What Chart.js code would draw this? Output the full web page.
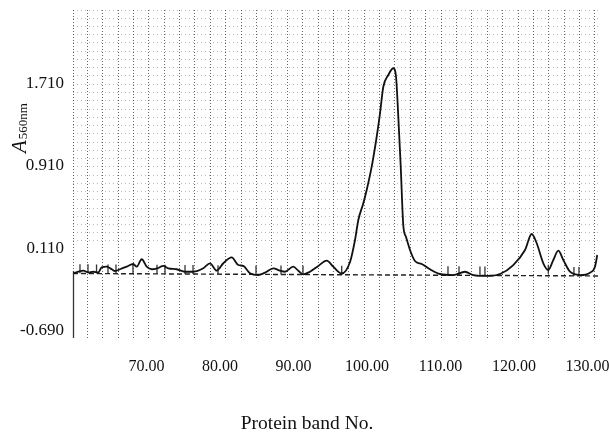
<!DOCTYPE html>
<html>
<head>
<meta charset="utf-8">
<script src="https://cdn.jsdelivr.net/npm/chart.js@4"></script>
<style>
html,body{margin:0;padding:0;background:#fff;}
#wrap{width:609px;height:433px;}
</style>
</head>
<body>
<div id="wrap"><canvas id="c" width="609" height="433"></canvas></div>
<script>
// ---- data ----
const bandNo = [60.04,60.72,61.40,62.08,62.76,63.44,63.90,64.59,65.27,65.71,66.39,67.31,68.20,68.67,69.35,70.03,70.71,71.47,72.29,72.97,74.11,75.24,76.37,77.73,78.64,79.55,80.45,81.59,82.49,83.17,84.08,85.21,86.12,87.25,88.16,88.84,89.97,90.65,91.33,92.24,93.37,94.52,95.41,96.56,97.69,98.37,98.82,99.50,99.96,100.64,101.32,101.77,102.22,102.90,103.58,103.95,104.26,104.59,104.94,105.31,105.85,106.53,107.44,108.57,109.93,111.74,113.33,114.46,116.29,118.10,119.90,121.50,122.41,123.09,123.99,124.67,125.35,126.03,126.71,127.62,128.98,130.34,131.02,131.33];
const absorbance = [-0.133,-0.118,-0.108,-0.124,-0.118,-0.124,-0.075,-0.069,-0.094,-0.111,-0.094,-0.069,-0.043,-0.069,0.003,-0.069,-0.094,-0.085,-0.062,-0.085,-0.094,-0.118,-0.118,-0.085,-0.036,-0.108,-0.036,0.022,-0.053,-0.062,-0.133,-0.150,-0.127,-0.085,-0.108,-0.118,-0.069,-0.108,-0.143,-0.118,-0.062,-0.011,-0.069,-0.135,-0.024,0.190,0.384,0.546,0.675,0.901,1.191,1.418,1.676,1.790,1.855,1.773,1.385,0.901,0.330,0.219,0.093,-0.014,-0.043,-0.094,-0.140,-0.150,-0.118,-0.150,-0.159,-0.140,-0.053,0.093,0.248,0.158,-0.036,-0.101,-0.004,0.086,-0.004,-0.118,-0.150,-0.127,-0.069,0.044];
const baselineX = [60.0, 131.43];
const baselineY = [-0.135, -0.159];
const markerX = [60.95,62.04,63.20,64.76,65.85,68.16,71.43,72.52,75.24,76.33,79.73,84.90,88.30,91.29,96.56,111.02,112.52,115.37,116.05,124.67,128.16,128.84];
const markerY = [-0.090,-0.090,-0.091,-0.092,-0.092,-0.093,-0.094,-0.095,-0.096,-0.097,-0.098,-0.100,-0.101,-0.102,-0.104,-0.108,-0.109,-0.110,-0.110,-0.095,-0.115,-0.115];
const xTickValues = [70, 80, 90, 100, 110, 120, 130];
const yTickValues = [-0.690, 0.110, 0.910, 1.710];
const xTitle = 'Protein band No.';
const yTitleMain = 'A';
const yTitleSub = '560nm';

const SERIF = '"Liberation Serif", "DejaVu Serif", serif';

function noPad(s) { s.paddingTop = 0; s.paddingBottom = 0; s.paddingLeft = 0; s.paddingRight = 0; }

const decor = {
  id: 'decor',
  beforeDatasetsDraw(chart) {
    const ctx = chart.ctx, a = chart.chartArea, ys = chart.scales.y;
    ctx.save();
    ctx.strokeStyle = 'rgba(0,0,0,0.6)';
    ctx.lineWidth = 1;
    ctx.setLineDash([1, 2]);
    ctx.beginPath();
    ctx.moveTo(a.left + 0.5, a.top);
    ctx.lineTo(a.left + 0.5, a.bottom);
    ctx.stroke();
    ctx.setLineDash([]);
    ctx.strokeStyle = '#333';
    ctx.lineWidth = 1.3;
    ctx.beginPath();
    ctx.moveTo(a.left + 0.5, ys.getPixelForValue(-0.11));
    ctx.lineTo(a.left + 0.5, a.bottom - 2);
    ctx.stroke();
    ctx.restore();
  },
  afterDraw(chart) {
    const ctx = chart.ctx;
    ctx.save();
    ctx.fillStyle = '#111';
    ctx.font = '19.5px ' + SERIF;
    ctx.textAlign = 'center';
    ctx.textBaseline = 'alphabetic';
    ctx.fillText(xTitle, 307, 429);
    ctx.translate(26, 153);
    ctx.rotate(-Math.PI / 2);
    ctx.textAlign = 'left';
    ctx.font = 'italic 21px ' + SERIF;
    ctx.fillText(yTitleMain, 0, 0);
    const wA = ctx.measureText(yTitleMain).width;
    ctx.font = '13px ' + SERIF;
    ctx.fillText(yTitleSub, wA + 1, 1);
    ctx.restore();
  }
};

new Chart(document.getElementById('c'), {
  type: 'line',
  data: {
    datasets: [
      {
        label: 'A560',
        data: bandNo.map((x, i) => ({x: x, y: absorbance[i]})),
        borderColor: '#111',
        borderWidth: 1.8,
        pointRadius: 0,
        cubicInterpolationMode: 'monotone',
        fill: false
      },
      {
        label: 'baseline',
        data: baselineX.map((x, i) => ({x: x, y: baselineY[i]})),
        borderColor: '#222',
        borderWidth: 1.4,
        borderDash: [5, 3],
        pointRadius: 0,
        fill: false
      },
      {
        label: 'markers',
        type: 'scatter',
        data: markerX.map((x, i) => ({x: x, y: markerY[i]})),
        showLine: false,
        pointStyle: 'line',
        rotation: 90,
        radius: 4.5,
        pointRadius: 4.5,
        borderWidth: 1.3,
        borderColor: '#333',
        backgroundColor: '#333'
      }
    ]
  },
  options: {
    responsive: false,
    devicePixelRatio: 1,
    animation: false,
    events: [],
    layout: {autoPadding: false, padding: {left: 0, right: 11, top: 10, bottom: 0}},
    plugins: {legend: {display: false}, tooltip: {enabled: false}, title: {display: false}},
    scales: {
      x: {
        type: 'linear',
        position: 'bottom',
        min: 60,
        max: 131.43,
        afterBuildTicks: s => { s.ticks = xTickValues.map(v => ({value: v})); },
        afterFit: s => { s.height = 93; noPad(s); },
        ticks: {
          callback: v => Number(v).toFixed(2),
          font: {family: SERIF, size: 16},
          color: '#111',
          padding: 17,
          maxRotation: 0,
          autoSkip: false
        },
        grid: {display: false, drawTicks: false},
        border: {display: false}
      },
      xg: {
        type: 'linear',
        position: 'top',
        min: -0.93,
        max: 33.2,
        afterFit: s => { s.height = 0; noPad(s); },
        ticks: {display: false, stepSize: 1, includeBounds: false},
        grid: {color: 'rgba(0,0,0,0.6)', lineWidth: 1, drawTicks: false},
        border: {display: false, dash: [1, 2]}
      },
      y: {
        type: 'linear',
        position: 'left',
        min: -0.78,
        max: 2.42,
        afterBuildTicks: s => { s.ticks = yTickValues.map(v => ({value: v})); },
        afterFit: s => { s.width = 73; noPad(s); },
        ticks: {
          callback: v => Number(v).toFixed(3),
          font: {family: SERIF, size: 17},
          color: '#111',
          padding: 9
        },
        grid: {display: false, drawTicks: false},
        border: {display: false}
      },
      yg: {
        type: 'linear',
        position: 'right',
        min: -0.39,
        max: 39.61,
        afterFit: s => { s.width = 0; noPad(s); },
        ticks: {display: false, stepSize: 1, includeBounds: false},
        grid: {
          drawTicks: false,
          lineWidth: 1,
          color: c => (c.tick && (c.tick.value >= 11 || c.tick.value === 0)) ? 'rgba(0,0,0,0.28)' : 'rgba(0,0,0,0)'
        },
        border: {display: false, dash: [1, 3]}
      }
    }
  },
  plugins: [decor]
});
</script>
</body>
</html>
